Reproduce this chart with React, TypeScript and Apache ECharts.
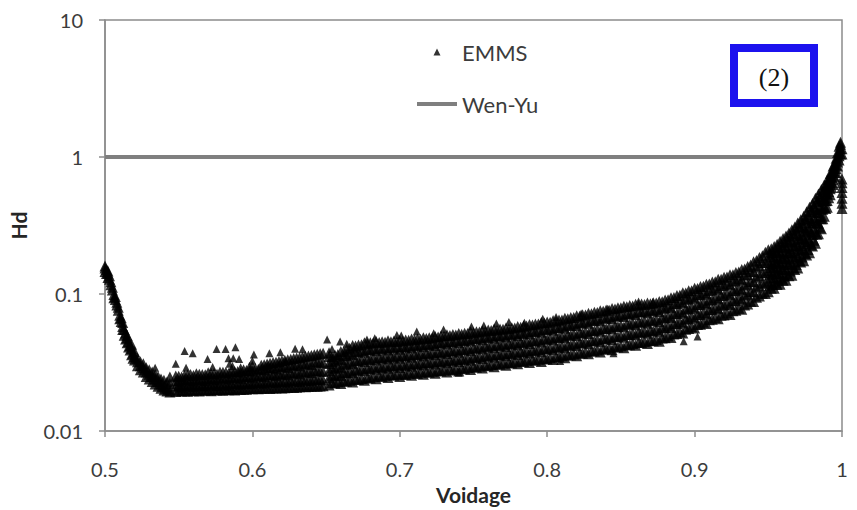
import { useEffect, useRef } from "react";
import * as echarts from "echarts";

const seriesNames = ["EMMS", "Wen-Yu"];
const xTickValues = [0.5, 0.6, 0.7, 0.8, 0.9, 1];
const yTickValues = [0.01, 0.1, 1, 10];
const panelTag = "(2)";

// Wen-Yu correlation: Hd = 1 over the whole voidage range
const wenYuVoidage = [0.5, 1.0];
const wenYuHd = [1, 1];

// EMMS points, each row: [voidage, Hd, Hd, ...]
const emmsDescent: number[][] = [
  [0.5, 0.155, 0.146, 0.16],
  [0.501, 0.151, 0.141],
  [0.502, 0.142, 0.132, 0.147],
  [0.503, 0.128, 0.136],
  [0.504, 0.117, 0.123],
  [0.505, 0.107, 0.112],
  [0.506, 0.099, 0.094],
  [0.507, 0.091, 0.096],
  [0.508, 0.083, 0.087],
  [0.509, 0.076, 0.08],
  [0.51, 0.07, 0.066],
  [0.511, 0.063, 0.067],
  [0.512, 0.058, 0.062, 0.055],
  [0.513, 0.055, 0.05],
  [0.514, 0.052, 0.047],
  [0.515, 0.048, 0.044, 0.05],
  [0.516, 0.045, 0.041],
  [0.517, 0.042, 0.039],
  [0.518, 0.04, 0.036, 0.043],
  [0.519, 0.037, 0.034],
  [0.52, 0.035, 0.033, 0.038],
  [0.522, 0.032, 0.03, 0.034],
  [0.524, 0.03, 0.028, 0.032],
  [0.526, 0.029, 0.027, 0.031],
  [0.528, 0.027, 0.025, 0.029],
  [0.53, 0.026, 0.024, 0.028],
  [0.532, 0.025, 0.023, 0.027],
  [0.534, 0.024, 0.022, 0.026],
  [0.536, 0.023, 0.0212, 0.025],
  [0.538, 0.022, 0.0205, 0.024],
  [0.54, 0.0212, 0.0199, 0.0235],
  [0.542, 0.0205, 0.0196, 0.0228],
  [0.544, 0.0199, 0.0193, 0.0222, 0.0248],
];

const emmsFloor: number[][] = [
  [0.548, 0.0194, 0.0212, 0.0232, 0.0252],
  [0.552, 0.0196, 0.0209, 0.0228, 0.0248],
  [0.556, 0.0195, 0.0214, 0.0236, 0.0257],
  [0.56, 0.0197, 0.0211, 0.0231, 0.0254],
  [0.564, 0.0196, 0.0215, 0.0238, 0.026],
  [0.568, 0.0198, 0.0213, 0.0234, 0.0257],
  [0.572, 0.0197, 0.0217, 0.024, 0.0263],
  [0.576, 0.0199, 0.0214, 0.0236, 0.026],
  [0.58, 0.0198, 0.0218, 0.0243, 0.0268],
  [0.584, 0.02, 0.0216, 0.0239, 0.0264],
  [0.588, 0.0199, 0.022, 0.0246, 0.0272],
  [0.592, 0.0201, 0.0218, 0.0242, 0.0268, 0.0285],
  [0.596, 0.0202, 0.0222, 0.0249, 0.0277],
  [0.6, 0.0203, 0.022, 0.0245, 0.0273, 0.0296],
  [0.604, 0.0203, 0.0224, 0.0252, 0.0282],
  [0.608, 0.0205, 0.0223, 0.0249, 0.0279, 0.0305],
  [0.612, 0.0204, 0.0227, 0.0257, 0.0289, 0.0312],
  [0.616, 0.0206, 0.0225, 0.0253, 0.0284, 0.0318],
  [0.62, 0.0206, 0.0229, 0.026, 0.0295, 0.0326],
  [0.624, 0.0208, 0.0227, 0.0256, 0.0291, 0.0331],
  [0.628, 0.0208, 0.0232, 0.0265, 0.0302, 0.0338],
  [0.632, 0.021, 0.023, 0.0261, 0.0298, 0.0343],
  [0.636, 0.021, 0.0235, 0.027, 0.031, 0.0351],
  [0.64, 0.0212, 0.0233, 0.0266, 0.0305, 0.0356],
  [0.644, 0.0212, 0.0238, 0.0276, 0.032, 0.0364],
  [0.648, 0.0214, 0.0236, 0.0272, 0.0315, 0.0369],
];

const emmsFloorB: number[][] = [
  [0.55, 0.0198, 0.0215, 0.0234, 0.0251],
  [0.554, 0.0197, 0.0218, 0.0238, 0.0255],
  [0.558, 0.0199, 0.0216, 0.0235, 0.0258],
  [0.562, 0.0198, 0.0219, 0.0241, 0.0262],
  [0.566, 0.02, 0.0217, 0.0237, 0.0259],
  [0.57, 0.0199, 0.0221, 0.0244, 0.0266],
  [0.574, 0.0201, 0.0219, 0.024, 0.0264],
  [0.578, 0.02, 0.0222, 0.0247, 0.027],
  [0.582, 0.0202, 0.022, 0.0244, 0.0268],
  [0.586, 0.0201, 0.0224, 0.025, 0.0275],
  [0.59, 0.0203, 0.0222, 0.0247, 0.0272],
  [0.594, 0.0202, 0.0225, 0.0253, 0.028],
  [0.598, 0.0204, 0.0224, 0.025, 0.0277, 0.0292],
  [0.602, 0.0205, 0.0228, 0.0256, 0.0286],
  [0.606, 0.0204, 0.0226, 0.0253, 0.0284, 0.0302],
  [0.61, 0.0207, 0.023, 0.026, 0.0292, 0.0309],
  [0.614, 0.0206, 0.0229, 0.0257, 0.029, 0.0316],
  [0.618, 0.0208, 0.0232, 0.0264, 0.0299, 0.0322],
  [0.622, 0.0207, 0.0231, 0.0261, 0.0297, 0.0329],
  [0.626, 0.021, 0.0235, 0.0268, 0.0306, 0.0334],
  [0.63, 0.0209, 0.0233, 0.0265, 0.0303, 0.0341],
  [0.634, 0.0212, 0.0238, 0.0273, 0.0313, 0.0347],
  [0.638, 0.0211, 0.0236, 0.0269, 0.0309, 0.0353],
  [0.642, 0.0213, 0.024, 0.0277, 0.0319, 0.036],
  [0.646, 0.0213, 0.0239, 0.0274, 0.0317, 0.0366],
];

const emmsBand: number[][] = [
  [0.652, 0.0217, 0.0245, 0.0276, 0.0311, 0.035, 0.0372],
  [0.656, 0.0224, 0.0253, 0.0287, 0.0325, 0.0358],
  [0.66, 0.0222, 0.0254, 0.029, 0.0332, 0.038],
  [0.664, 0.0231, 0.0266, 0.0308, 0.0355, 0.0395],
  [0.668, 0.0228, 0.0266, 0.031, 0.0361, 0.042],
  [0.672, 0.0238, 0.0278, 0.0325, 0.0379, 0.0425],
  [0.676, 0.0235, 0.0275, 0.0322, 0.0376, 0.044],
  [0.68, 0.0244, 0.0285, 0.0333, 0.039, 0.044],
  [0.684, 0.0241, 0.0282, 0.033, 0.0385, 0.045],
  [0.688, 0.025, 0.0291, 0.034, 0.0396, 0.0448],
  [0.692, 0.0246, 0.0287, 0.0335, 0.039, 0.0455],
  [0.696, 0.0255, 0.0297, 0.0346, 0.0403, 0.0454],
  [0.7, 0.025, 0.0291, 0.0339, 0.0395, 0.046],
  [0.704, 0.0258, 0.0301, 0.0351, 0.0409, 0.0461],
  [0.708, 0.0255, 0.0297, 0.0346, 0.0403, 0.047],
  [0.712, 0.0263, 0.0307, 0.0358, 0.0417, 0.0471],
  [0.716, 0.026, 0.0303, 0.0353, 0.0412, 0.048],
  [0.72, 0.0268, 0.0313, 0.0365, 0.0426, 0.048],
  [0.724, 0.0264, 0.0308, 0.036, 0.042, 0.049],
  [0.728, 0.0274, 0.032, 0.0374, 0.0438, 0.0496],
  [0.732, 0.0269, 0.0315, 0.0368, 0.0431, 0.0505],
  [0.736, 0.0279, 0.0326, 0.0382, 0.0447, 0.0506],
  [0.74, 0.0274, 0.0321, 0.0376, 0.044, 0.0515],
  [0.744, 0.0285, 0.0333, 0.039, 0.0456, 0.0516],
  [0.748, 0.0281, 0.0329, 0.0386, 0.0453, 0.053],
  [0.752, 0.0292, 0.0343, 0.0402, 0.0471, 0.053],
  [0.756, 0.0288, 0.0338, 0.0396, 0.0464, 0.054],
  [0.76, 0.03, 0.0351, 0.0411, 0.0482, 0.0545],
  [0.764, 0.0295, 0.0346, 0.0405, 0.0475, 0.0555],
  [0.768, 0.0307, 0.0359, 0.042, 0.0492, 0.0556],
  [0.772, 0.0302, 0.0354, 0.0414, 0.0485, 0.0565],
  [0.776, 0.0314, 0.0367, 0.0429, 0.0502, 0.0566],
  [0.78, 0.031, 0.0362, 0.0424, 0.0495, 0.058],
  [0.784, 0.0321, 0.0376, 0.044, 0.0515, 0.0585],
  [0.788, 0.0316, 0.0371, 0.0435, 0.0511, 0.06],
  [0.792, 0.0328, 0.0386, 0.0453, 0.0532, 0.0605],
  [0.796, 0.0322, 0.0379, 0.0447, 0.0526, 0.062],
  [0.8, 0.0336, 0.0396, 0.0467, 0.055, 0.0625],
  [0.804, 0.0332, 0.0391, 0.0461, 0.0543, 0.064],
  [0.808, 0.0347, 0.0408, 0.0481, 0.0567, 0.0645],
  [0.812, 0.0342, 0.0404, 0.0477, 0.0563, 0.0665],
  [0.816, 0.0358, 0.0423, 0.05, 0.059, 0.0675],
  [0.82, 0.0354, 0.0419, 0.0496, 0.0587, 0.0695],
  [0.824, 0.037, 0.0438, 0.0519, 0.0615, 0.0705],
  [0.828, 0.0366, 0.0434, 0.0515, 0.0611, 0.0725],
  [0.832, 0.0383, 0.0455, 0.054, 0.064, 0.0735],
  [0.836, 0.0378, 0.0449, 0.0534, 0.0635, 0.0755],
  [0.84, 0.0396, 0.0471, 0.056, 0.0666, 0.0765],
  [0.844, 0.0392, 0.0466, 0.0555, 0.066, 0.0785],
  [0.848, 0.041, 0.0488, 0.058, 0.069, 0.0795],
  [0.852, 0.0406, 0.0483, 0.0575, 0.0684, 0.0815],
  [0.856, 0.0426, 0.0506, 0.0602, 0.0716, 0.0825],
  [0.86, 0.0422, 0.0501, 0.0595, 0.0707, 0.084],
  [0.864, 0.0442, 0.0525, 0.0623, 0.074, 0.0845],
  [0.868, 0.0436, 0.0516, 0.0612, 0.0726, 0.086],
  [0.872, 0.0455, 0.0538, 0.0637, 0.0754, 0.0865],
  [0.876, 0.0452, 0.0534, 0.0631, 0.0745, 0.088],
  [0.88, 0.0479, 0.0566, 0.0668, 0.0789, 0.0905],
  [0.884, 0.0482, 0.0569, 0.0673, 0.0795, 0.094],
  [0.888, 0.0514, 0.0608, 0.072, 0.0851, 0.0975],
  [0.892, 0.052, 0.0615, 0.0728, 0.0862, 0.102],
  [0.896, 0.056, 0.0661, 0.078, 0.0921, 0.1055],
  [0.9, 0.0565, 0.0667, 0.0788, 0.093, 0.11],
  [0.904, 0.0601, 0.071, 0.0838, 0.099, 0.1135],
  [0.908, 0.061, 0.0719, 0.0848, 0.1, 0.118],
  [0.912, 0.0653, 0.077, 0.0908, 0.1071, 0.1225],
  [0.916, 0.066, 0.0779, 0.0919, 0.1084, 0.128],
  [0.92, 0.0704, 0.0831, 0.098, 0.1156, 0.1325],
  [0.924, 0.071, 0.0838, 0.0989, 0.1167, 0.138],
  [0.928, 0.0761, 0.0898, 0.106, 0.125, 0.1435],
  [0.932, 0.0775, 0.0915, 0.108, 0.1276, 0.151],
  [0.936, 0.0844, 0.0996, 0.1177, 0.139, 0.159],
  [0.94, 0.088, 0.104, 0.123, 0.1454, 0.172],
  [0.944, 0.0968, 0.1146, 0.1357, 0.1607, 0.185],
  [0.948, 0.101, 0.12, 0.1428, 0.1698, 0.202],
];

const emmsBandB: number[][] = [
  [0.654, 0.0226, 0.0255, 0.0288, 0.0322, 0.0348],
  [0.658, 0.0229, 0.026, 0.0296, 0.0337, 0.0362],
  [0.662, 0.0232, 0.0267, 0.0307, 0.0353, 0.0382],
  [0.666, 0.0235, 0.0273, 0.0317, 0.0367, 0.0402],
  [0.67, 0.0239, 0.0279, 0.0325, 0.0379, 0.0417],
  [0.674, 0.0242, 0.0283, 0.0331, 0.0387, 0.0426],
  [0.678, 0.0245, 0.0287, 0.0336, 0.0394, 0.0434],
  [0.682, 0.025, 0.0292, 0.0341, 0.0399, 0.0439],
  [0.686, 0.0253, 0.0295, 0.0344, 0.0402, 0.0442],
  [0.69, 0.0255, 0.0297, 0.0347, 0.0405, 0.0445],
  [0.694, 0.0258, 0.0301, 0.0351, 0.0409, 0.0448],
  [0.698, 0.026, 0.0303, 0.0353, 0.0412, 0.045],
  [0.702, 0.0261, 0.0304, 0.0355, 0.0414, 0.0454],
  [0.706, 0.0264, 0.0308, 0.0359, 0.0418, 0.0459],
  [0.71, 0.0266, 0.031, 0.0362, 0.0422, 0.0463],
  [0.714, 0.0269, 0.0314, 0.0366, 0.0427, 0.0468],
  [0.718, 0.0271, 0.0316, 0.0369, 0.043, 0.0473],
  [0.722, 0.0273, 0.0319, 0.0372, 0.0434, 0.0478],
  [0.726, 0.0277, 0.0323, 0.0377, 0.044, 0.0485],
  [0.73, 0.0279, 0.0326, 0.0381, 0.0446, 0.0493],
  [0.734, 0.0282, 0.033, 0.0386, 0.0451, 0.0498],
  [0.738, 0.0284, 0.0332, 0.0389, 0.0455, 0.0503],
  [0.742, 0.0287, 0.0336, 0.0393, 0.046, 0.0508],
  [0.746, 0.0291, 0.034, 0.0398, 0.0466, 0.0515],
  [0.75, 0.0294, 0.0345, 0.0404, 0.0473, 0.0522],
  [0.754, 0.0298, 0.0349, 0.0409, 0.0479, 0.0527],
  [0.758, 0.0302, 0.0354, 0.0415, 0.0486, 0.0534],
  [0.762, 0.0306, 0.0359, 0.042, 0.0493, 0.0542],
  [0.766, 0.0309, 0.0362, 0.0424, 0.0497, 0.0547],
  [0.77, 0.0313, 0.0367, 0.043, 0.0503, 0.0552],
  [0.774, 0.0316, 0.037, 0.0434, 0.0508, 0.0557],
  [0.778, 0.032, 0.0375, 0.0439, 0.0514, 0.0564],
  [0.782, 0.0324, 0.038, 0.0445, 0.0521, 0.0573],
  [0.786, 0.0328, 0.0384, 0.045, 0.0527, 0.0583],
  [0.79, 0.0331, 0.0388, 0.0456, 0.0535, 0.0593],
  [0.794, 0.0334, 0.0393, 0.0462, 0.0544, 0.0603],
  [0.798, 0.0338, 0.0398, 0.0469, 0.0552, 0.0613],
  [0.802, 0.0343, 0.0404, 0.0476, 0.0561, 0.0622],
  [0.806, 0.0348, 0.041, 0.0483, 0.0569, 0.0632],
  [0.81, 0.0354, 0.0417, 0.0492, 0.0581, 0.0645],
  [0.814, 0.0359, 0.0424, 0.0501, 0.0593, 0.066],
  [0.818, 0.0365, 0.0432, 0.0511, 0.0605, 0.0674],
  [0.822, 0.0371, 0.044, 0.0521, 0.0618, 0.0689],
  [0.826, 0.0378, 0.0448, 0.0531, 0.063, 0.0704],
  [0.83, 0.0384, 0.0456, 0.0541, 0.0642, 0.0718],
  [0.834, 0.039, 0.0463, 0.055, 0.0654, 0.0733],
  [0.838, 0.0397, 0.0472, 0.0561, 0.0667, 0.0748],
  [0.842, 0.0405, 0.0481, 0.0572, 0.068, 0.0762],
  [0.846, 0.0412, 0.049, 0.0582, 0.0692, 0.0777],
  [0.85, 0.0419, 0.0498, 0.0592, 0.0704, 0.0792],
  [0.854, 0.0426, 0.0507, 0.0603, 0.0717, 0.0806],
  [0.858, 0.0435, 0.0517, 0.0615, 0.0731, 0.0818],
  [0.862, 0.0443, 0.0526, 0.0624, 0.0741, 0.0828],
  [0.866, 0.045, 0.0533, 0.0632, 0.0749, 0.0838],
  [0.87, 0.0458, 0.0542, 0.0642, 0.076, 0.0848],
  [0.874, 0.0466, 0.0551, 0.0651, 0.077, 0.0858],
  [0.878, 0.0477, 0.0564, 0.0667, 0.0788, 0.0877],
  [0.882, 0.0493, 0.0583, 0.0689, 0.0814, 0.0907],
  [0.886, 0.0511, 0.0604, 0.0714, 0.0844, 0.0941],
  [0.89, 0.053, 0.0627, 0.0742, 0.0878, 0.098],
  [0.894, 0.0554, 0.0655, 0.0774, 0.0915, 0.1019],
  [0.898, 0.0577, 0.0681, 0.0805, 0.0951, 0.1058],
  [0.902, 0.0598, 0.0706, 0.0834, 0.0985, 0.1098],
  [0.906, 0.0622, 0.0734, 0.0866, 0.1022, 0.1137],
  [0.91, 0.0648, 0.0764, 0.0901, 0.1062, 0.1181],
  [0.914, 0.0674, 0.0795, 0.0938, 0.1107, 0.123],
  [0.918, 0.07, 0.0826, 0.0975, 0.115, 0.1279],
  [0.922, 0.0726, 0.0857, 0.1011, 0.1193, 0.1328],
  [0.926, 0.0754, 0.089, 0.1051, 0.1241, 0.1382],
  [0.93, 0.0788, 0.0931, 0.1099, 0.1298, 0.1446],
  [0.934, 0.083, 0.0981, 0.1159, 0.137, 0.1524],
  [0.938, 0.0884, 0.1045, 0.1235, 0.146, 0.1627],
  [0.942, 0.0946, 0.112, 0.1326, 0.157, 0.1754],
  [0.946, 0.1014, 0.1205, 0.1431, 0.17, 0.1901],
];

const emmsTip: number[][] = [
  [0.95, 0.104, 0.124, 0.1478, 0.1762, 0.21],
  [0.952, 0.11, 0.131, 0.156, 0.186, 0.214],
  [0.954, 0.11, 0.1312, 0.1565, 0.1866, 0.222],
  [0.956, 0.1175, 0.14, 0.168, 0.2, 0.231],
  [0.958, 0.118, 0.1414, 0.1694, 0.203, 0.243],
  [0.96, 0.126, 0.151, 0.182, 0.219, 0.254],
  [0.962, 0.126, 0.1517, 0.1827, 0.22, 0.265],
  [0.964, 0.136, 0.165, 0.199, 0.24, 0.279],
  [0.966, 0.137, 0.166, 0.201, 0.2434, 0.295],
  [0.968, 0.151, 0.182, 0.221, 0.267, 0.309],
  [0.97, 0.155, 0.187, 0.226, 0.273, 0.33],
  [0.972, 0.171, 0.207, 0.25, 0.302, 0.349],
  [0.974, 0.175, 0.211, 0.2545, 0.307, 0.37],
  [0.976, 0.193, 0.234, 0.284, 0.345, 0.398],
  [0.978, 0.2, 0.242, 0.293, 0.355, 0.43],
  [0.98, 0.224, 0.272, 0.33, 0.4, 0.458],
  [0.982, 0.235, 0.284, 0.343, 0.414, 0.5],
  [0.984, 0.275, 0.329, 0.394, 0.472, 0.538],
  [0.986, 0.3, 0.354, 0.417, 0.492, 0.58],
  [0.988, 0.37, 0.428, 0.494, 0.571, 0.628],
  [0.99, 0.43, 0.482, 0.54, 0.606, 0.68],
  [0.992, 0.53, 0.586, 0.646, 0.714, 0.758],
  [0.994, 0.63, 0.68, 0.735, 0.796, 0.86],
  [0.996, 0.77, 0.82, 0.875, 0.935, 0.98],
  [0.997, 0.86, 0.92, 1.0, 1.08],
  [0.998, 0.95, 1.02, 1.1, 1.2],
  [0.999, 1.05, 1.15, 1.24, 1.28],
  [1.0, 0.42, 0.46, 0.5, 0.55, 0.6, 0.65, 0.69, 1.05, 1.15],
];

const emmsTipB: number[][] = [
  [0.951, 0.115, 0.138, 0.163, 0.195],
  [0.953, 0.118, 0.1415, 0.167, 0.2005],
  [0.955, 0.122, 0.1466, 0.1737, 0.2089],
  [0.957, 0.1264, 0.1524, 0.181, 0.218],
  [0.959, 0.131, 0.1584, 0.1886, 0.228],
  [0.961, 0.1355, 0.1644, 0.1964, 0.238],
  [0.963, 0.1406, 0.1709, 0.2048, 0.2489],
  [0.965, 0.1469, 0.179, 0.215, 0.2622],
  [0.967, 0.1545, 0.1884, 0.2263, 0.276],
  [0.969, 0.1643, 0.2, 0.24, 0.2922],
  [0.971, 0.1752, 0.213, 0.2554, 0.3106],
  [0.973, 0.186, 0.2261, 0.271, 0.3293],
  [0.975, 0.1973, 0.2403, 0.2885, 0.3515],
  [0.977, 0.2112, 0.2578, 0.3101, 0.3785],
  [0.979, 0.2274, 0.2772, 0.333, 0.406],
  [0.981, 0.2464, 0.3002, 0.36, 0.4383],
  [0.983, 0.273, 0.33, 0.394, 0.476],
  [0.985, 0.3068, 0.3664, 0.4317, 0.5158],
  [0.987, 0.3548, 0.4155, 0.4805, 0.5627],
  [0.989, 0.42, 0.479, 0.541, 0.617],
  [0.991, 0.504, 0.56, 0.617, 0.685],
  [0.993, 0.599, 0.655, 0.711, 0.777],
  [0.995, 0.719, 0.774, 0.827, 0.89],
];

// isolated points above / below the dense band: [voidage, Hd]
const emmsOutliers: number[][] = [
  [0.534, 0.0289], [0.548, 0.031], [0.554, 0.0383], [0.5595, 0.037], [0.555, 0.029],
  [0.5696, 0.0335], [0.573, 0.0293], [0.5757, 0.0396], [0.5818, 0.0396], [0.5885, 0.0409],
  [0.5838, 0.034], [0.587, 0.034], [0.591, 0.0335], [0.5845, 0.031], [0.5865, 0.0298],
  [0.601, 0.0362], [0.6, 0.0325], [0.6115, 0.0369], [0.619, 0.0376], [0.629, 0.0399],
  [0.6223, 0.0324], [0.634, 0.0395], [0.6507, 0.0466], [0.6595, 0.045], [0.664, 0.0433],
  [0.669, 0.0399], [0.654, 0.0396], [0.6777, 0.0466], [0.683, 0.0475], [0.698, 0.0503],
  [0.701, 0.0497], [0.7115, 0.0533], [0.723, 0.0516], [0.7297, 0.055], [0.7486, 0.058],
  [0.757, 0.059], [0.7655, 0.061], [0.774, 0.0625], [0.7845, 0.0618], [0.797, 0.066],
  [0.806, 0.068], [0.823, 0.072], [0.841, 0.078], [0.8716, 0.0875], [0.862, 0.088],
  [0.74, 0.0266], [0.8088, 0.0324], [0.8926, 0.0452], [0.902, 0.049], [0.845, 0.037],
];

function columnsToPoints(rows: number[][]): number[][] {
  const out: number[][] = [];
  for (const row of rows) {
    for (let i = 1; i < row.length; i++) out.push([row[0], row[i]]);
  }
  return out;
}

const FONT = "Lato, 'Open Sans', sans-serif";
const AXIS_GRAY = "#8c8c8c";
const TEXT_GRAY = "#3c3c3c";
const LINE_GRAY = "#7f7f7f";

export default function App() {
  const ref = useRef<HTMLDivElement>(null);

  useEffect(() => {
    if (!ref.current) return;
    const chart = echarts.init(ref.current, undefined, { renderer: "svg" });

    const emmsBandPoints = [
      ...columnsToPoints(emmsDescent),
      ...columnsToPoints(emmsFloor),
      ...columnsToPoints(emmsFloorB),
      ...columnsToPoints(emmsBand),
      ...columnsToPoints(emmsBandB),
      ...columnsToPoints(emmsTip),
      ...columnsToPoints(emmsTipB),
    ];
    const wenYuPoints = wenYuVoidage.map((v, i) => [v, wenYuHd[i]]);

    chart.setOption({
      animation: false,
      backgroundColor: "#ffffff",
      textStyle: { fontFamily: FONT },
      grid: {
        left: 102,
        right: 15,
        top: 20,
        bottom: 74,
        show: true,
        borderColor: AXIS_GRAY,
        borderWidth: 1.5,
        containLabel: false,
      },
      legend: {
        orient: "vertical",
        left: 412,
        top: 36,
        padding: 5,
        itemWidth: 40,
        itemHeight: 7,
        itemGap: 30,
        selectedMode: false,
        symbolKeepAspect: true,
        textStyle: { fontSize: 22, color: TEXT_GRAY, fontFamily: FONT },
        data: [
          { name: seriesNames[0], icon: "path://M5,0L10,10L0,10Z" },
          { name: seriesNames[1], icon: "path://M0,0L40,0L40,4L0,4Z" },
        ],
      },
      xAxis: {
        type: "value",
        min: xTickValues[0],
        max: xTickValues[xTickValues.length - 1],
        interval: 0.1,
        name: "Voidage",
        nameLocation: "middle",
        nameGap: 53,
        nameTextStyle: { fontSize: 21, fontWeight: "bold", color: "#262626", fontFamily: FONT },
        axisLine: { show: true, lineStyle: { color: AXIS_GRAY, width: 1.5 } },
        axisTick: { show: true, length: 6, lineStyle: { color: AXIS_GRAY, width: 1.5 } },
        axisLabel: {
          fontSize: 20,
          color: TEXT_GRAY,
          margin: 28,
          fontFamily: FONT,
          formatter: (v: number) => String(parseFloat(v.toFixed(2))),
        },
        splitLine: { show: false },
      },
      yAxis: {
        type: "log",
        logBase: 10,
        min: yTickValues[0],
        max: yTickValues[yTickValues.length - 1],
        name: "Hd",
        nameLocation: "middle",
        nameRotate: 90,
        nameGap: 76,
        nameTextStyle: { fontSize: 21, fontWeight: "bold", color: "#262626", fontFamily: FONT },
        axisLine: { show: true, lineStyle: { color: AXIS_GRAY, width: 1.5 } },
        axisTick: { show: true, length: 6, lineStyle: { color: AXIS_GRAY, width: 1.5 } },
        axisLabel: {
          fontSize: 20,
          color: TEXT_GRAY,
          margin: 22,
          fontFamily: FONT,
          formatter: (v: number) => String(parseFloat(v.toPrecision(3))),
        },
        splitLine: { show: false },
        minorTick: { show: false },
      },
      series: [
        {
          name: seriesNames[0],
          type: "scatter",
          data: emmsBandPoints,
          symbol: "triangle",
          symbolSize: 11,
          itemStyle: { color: "#000000" },
          z: 3,
        },
        {
          name: seriesNames[0],
          type: "scatter",
          data: emmsOutliers,
          symbol: "triangle",
          symbolSize: 8,
          itemStyle: { color: "#000000" },
          z: 3,
        },
        {
          name: seriesNames[1],
          type: "line",
          data: wenYuPoints,
          showSymbol: false,
          symbol: "none",
          lineStyle: { color: LINE_GRAY, width: 4 },
          itemStyle: { color: LINE_GRAY },
          z: 2,
        },
      ],
      graphic: [
        {
          type: "rect",
          shape: { x: 734, y: 48, width: 80, height: 55 },
          style: { fill: "#ffffff", stroke: "#1c12ee", lineWidth: 8 },
          z: 10,
        },
        {
          type: "text",
          x: 774,
          y: 77,
          style: {
            text: panelTag,
            font: "26px 'Liberation Serif', 'Times New Roman', serif",
            fill: "#111111",
            textAlign: "center",
            textVerticalAlign: "middle",
          },
          z: 11,
        },
      ],
    });

    return () => chart.dispose();
  }, []);

  return (
    <div
      ref={ref}
      style={{ position: "fixed", left: 0, top: 0, width: 857, height: 510 }}
    />
  );
}
